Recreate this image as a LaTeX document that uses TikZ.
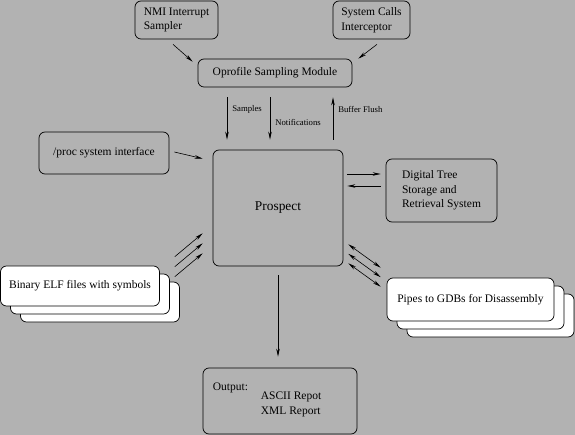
\documentclass[tikz,border=0pt]{standalone}
\usepackage{fontspec}
\setmainfont{Liberation Serif}
\usepackage{tikz}
\usetikzlibrary{positioning}
\usetikzlibrary{calc}
\usetikzlibrary{arrows.meta}
\pgfdeclarelayer{nodelayer}
\pgfdeclarelayer{edgelayer}
\pgfsetlayers{nodelayer,edgelayer,main}
\definecolor{figgrey}{gray}{0.7}
\tikzset{
    none/.style = {inner sep=0pt},
    txt/.style = {style=none, align=left, font=\fontsize{11.5}{14.5}\selectfont},
    box/.style = {draw, rounded corners=6pt, line width=0.7pt, inner sep=0pt, align=left,
                  font=\fontsize{11.5}{14.5}\selectfont},
    filebox/.style = {box, fill=white},
    arr/.style = {-{Stealth[length=8pt,width=3.5pt]}, line width=0.6pt},
    darr/.style = {{Stealth[length=8pt,width=3.5pt]}-{Stealth[length=8pt,width=3.5pt]}, line width=0.6pt},
    lbl/.style = {style=none, font=\fontsize{8.7}{10}\selectfont}
}

\begin{document}
\begin{tikzpicture}[x=1pt, y=-1pt]
  \useasboundingbox (0,0) rectangle (575,435);
  \begin{pgfonlayer}{nodelayer}
    \fill [figgrey] (0,0) rectangle (575,435);
    \node [box, minimum width=83, minimum height=38] (nmi) at (176.5, 20) {NMI Interrupt\\Sampler};
    \node [box, minimum width=77, minimum height=38] (sys) at (371.5, 20) {System Calls\\Interceptor};
    \node [box, minimum width=154, minimum height=28] (oprof) at (275, 73) {Oprofile Sampling Module};
    \node [box, minimum width=130, minimum height=42] (proc) at (104, 153) {/proc system interface};
    \node [box, minimum width=130, minimum height=116, font=\fontsize{13.4}{16}\selectfont] (prosp) at (278, 208) {Prospect};
    \node [box, minimum width=111, minimum height=63] (dtree) at (441.5, 190.5) {Digital Tree\\Storage and\\Retrieval System};
    % stacked file boxes
    \node [filebox, minimum width=159, minimum height=40] (elf3) at (100, 302) {};
    \node [filebox, minimum width=159, minimum height=40] (elf2) at (90, 294) {};
    \node [filebox, minimum width=159, minimum height=40] (elf1) at (80, 286) {Binary ELF files with symbols};
    \node [filebox, minimum width=167, minimum height=43] (pipes3) at (490.5, 315.5) {};
    \node [filebox, minimum width=167, minimum height=43] (pipes2) at (480.5, 307.5) {};
    \node [filebox, minimum width=167, minimum height=43] (pipes1) at (470.5, 299.5) {Pipes to GDBs for Disassembly};
    \node [box, minimum width=154, minimum height=66] (out) at (280, 401) {};
    \node [txt, anchor=west] (outlbl) at ([xshift=10pt, yshift=13pt]out.west) {Output:};
    \node [txt, anchor=west] (outrep) at ([xshift=58pt, yshift=-3.5pt]out.west) {ASCII Repot\\XML Report};
  \end{pgfonlayer}
  \begin{pgfonlayer}{edgelayer}
    \draw [arr] ($(nmi.south)+(-3.5,5)$) to ($(oprof.north west)+(-5,3)$);
    \draw [arr] ($(sys.south)+(5.5,5)$) to ($(oprof.north east)+(6,0)$);
    \draw [arr, shorten <=10pt, shorten >=10pt] ([xshift=-48pt]oprof.south) -- node [lbl, pos=0.35, right=5pt] {Samples} ([xshift=-48pt]oprof.south |- prosp.north);
    \draw [arr, shorten <=10pt, shorten >=10pt] ([xshift=-5pt]oprof.south) -- node [lbl, pos=0.57, right=5pt] {Notifications} ([xshift=-5pt]oprof.south |- prosp.north);
    \draw [arr, shorten <=10pt, shorten >=10pt] ([xshift=58pt]oprof.south |- prosp.north) -- node [lbl, pos=0.65, right=5pt] {Buffer Flush} ([xshift=58pt]oprof.south);
    \draw [arr] ($(proc.east)+(5,-1)$) to ($(prosp.north west)+(-10,9)$);
    \foreach \d in {0,10,20}
      \draw [arr] ($(elf1.north east)+(15,{-9+\d})$) to ($(prosp.south west)+(-10,{-33+\d})$);
    \draw [arr] ($(prosp.east |- dtree.west)+(4,-16.5)$) to ($(dtree.west)+(-5,-16.5)$);
    \draw [arr] ($(dtree.west)+(-5,-4.5)$) to ($(prosp.east |- dtree.west)+(4,-4.5)$);
    \foreach \d in {0,9.5,19}
      \draw [darr] ($(prosp.south east)+(5,{-22+\d})$) to ($(pipes1.north west)+(-6,{-10+\d})$);
    \draw [arr, shorten <=9pt, shorten >=11pt] (prosp.south) to (prosp.south |- out.north);
  \end{pgfonlayer}
\end{tikzpicture}
\end{document}
